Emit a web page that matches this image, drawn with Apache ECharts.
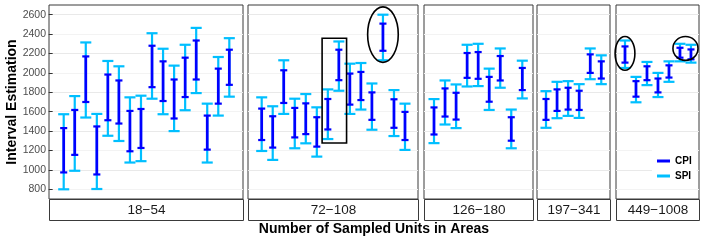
<!DOCTYPE html>
<html><head><meta charset="utf-8">
<script src="https://cdn.jsdelivr.net/npm/echarts@6/dist/echarts.min.js"></script>
<style>html,body{margin:0;padding:0;background:#fff}#c{width:706px;height:241px}</style>
</head><body><div id="c"></div>
<script>
// ---------- data ----------
const panelLabels = ['18\u221254', '72\u2212108', '126\u2212180', '197\u2212341', '449\u22121008'];
const yTicks = [800, 1000, 1200, 1400, 1600, 1800, 2000, 2200, 2400, 2600];

// CPI / SPI intervals as [low, high] for each area, one pair of arrays per panel
const cpi1 = [[974,1431],[1155,1618],[1700,2170],[953,1448],[1512,1983],[1478,1922],[1192,1608],[1226,1628],[1853,2280],[1710,2119],[1530,1932],[1751,2157],[1932,2334],[1209,1560],[1683,2044],[1877,2239]];
const spi1 = [[800,1574],[991,1761],[1540,2314],[803,1577],[1352,2123],[1298,2068],[1076,1748],[1090,1765],[1734,2409],[1574,2249],[1400,2075],[1615,2290],[1792,2464],[1076,1683],[1560,2164],[1755,2358]];
const cpi2 = [[1308,1632],[1230,1553],[1690,2027],[1335,1639],[1369,1686],[1240,1543],[1417,1731],[1925,2239],[1673,1993],[1720,2010],[1516,1799],[2228,2508],[1434,1728],[1308,1598]];
const spi2 = [[1195,1748],[1103,1656],[1577,2130],[1223,1734],[1274,1782],[1137,1645],[1318,1830],[1816,2324],[1577,2095],[1622,2102],[1414,1891],[2130,2600],[1349,1823],[1206,1683]];
const cpi3 = [[1365,1644],[1550,1840],[1519,1795],[1949,2205],[1939,2215],[1703,1959],[1922,2174],[1301,1543],[1823,2051]];
const spi3 = [[1276,1730],[1468,1922],[1431,1881],[1860,2290],[1864,2300],[1618,2044],[1847,2252],[1223,1622],[1737,2126]];
const cpi4 = [[1516,1731],[1608,1830],[1622,1847],[1618,1816],[2000,2191],[1942,2119]];
const spi4 = [[1434,1812],[1533,1908],[1557,1915],[1536,1884],[1935,2252],[1884,2181]];
const cpi5 = [[2106,2273],[1755,1915],[1925,2068],[1799,1942],[1952,2078],[2157,2259],[2140,2242]];
const spi5 = [[2051,2334],[1697,1959],[1874,2113],[1751,2000],[1908,2119],[2119,2300],[2106,2290]];

// highlight annotations (data units): rectangle [panel, x0, x1, y0, y1]; ellipses [panel, cx, rx, cy, ry]
const rectNotes = [[1, 6.48, 8.70, 1277, 2357]];
const ellipseNotes = [[1, 12, 1.39, 2395, 286], [4, 1, 0.9, 2201, 174], [4, 6.5, 1.14, 2252, 123]];

const cpiAll = [cpi1, cpi2, cpi3, cpi4, cpi5];
const spiAll = [spi1, spi2, spi3, spi4, spi5];

// ---------- layout ----------
const FONT = "'Liberation Sans', Arial, Helvetica, sans-serif";
const panelLeft = [49, 248, 424, 537, 616];
const panelWidth = [194, 170, 109, 73, 83];
const xRange = [[-0.332, 17.24], [-0.243, 15.18], [0.094, 9.97], [0.186, 6.79], [0.182, 7.73]];
const TOP = 5, HEIGHT = 194;
const CPI_COLOR = '#0000ff', SPI_COLOR = '#00bfff';

function errRender(capW, lw, capLw, color) {
  return function (params, api) {
    const x = api.value(0), lo = api.value(1), hi = api.value(2);
    const pLo = api.coord([x, lo]), pHi = api.coord([x, hi]);
    const hw = api.size([capW, 0])[0] / 2;
    return {
      type: 'group', children: [
        { type: 'line', shape: { x1: pLo[0], y1: pLo[1], x2: pHi[0], y2: pHi[1] }, style: { stroke: color, lineWidth: lw } },
        { type: 'line', shape: { x1: pLo[0] - hw, y1: pLo[1], x2: pLo[0] + hw, y2: pLo[1] }, style: { stroke: color, lineWidth: capLw } },
        { type: 'line', shape: { x1: pHi[0] - hw, y1: pHi[1], x2: pHi[0] + hw, y2: pHi[1] }, style: { stroke: color, lineWidth: capLw } }
      ]
    };
  };
}

const grids = [], xAxes = [], yAxes = [], series = [], graphics = [];
for (let p = 0; p < 5; p++) {
  grids.push({ left: panelLeft[p], top: TOP, width: panelWidth[p], height: HEIGHT, show: true,
    backgroundColor: '#fff', borderColor: '#3a3a3a', borderWidth: 1 });
  xAxes.push({ type: 'value', gridIndex: p, min: xRange[p][0], max: xRange[p][1],
    axisLine: { show: false }, axisTick: { show: false }, axisLabel: { show: false }, splitLine: { show: false } });
  yAxes.push({ type: 'value', gridIndex: p, min: 700, max: 2700, interval: 100,
    axisLine: { show: false },
    axisTick: { show: p === 0, length: 4, lineStyle: { color: '#333' }, customValues: yTicks },
    axisLabel: { show: p === 0, color: '#4d4d4d', fontSize: 10.5, fontFamily: FONT, margin: 3,
      customValues: yTicks, formatter: v => (v % 200 === 0 ? String(v) : '') },
    splitLine: { show: true, lineStyle: { color: ['#f3f3f3', '#e9e9e9'], width: 1 } } });
  const idx = (arr) => arr.map((d, i) => [i + 1, d[0], d[1]]);
  series.push({ type: 'custom', name: 'SPI', xAxisIndex: p, yAxisIndex: p, z: 2,
    itemStyle: { color: SPI_COLOR }, encode: { x: 0, y: [1, 2] },
    renderItem: errRender(1.0, 2.2, 2.2, SPI_COLOR), data: idx(spiAll[p]) });
  series.push({ type: 'custom', name: 'CPI', xAxisIndex: p, yAxisIndex: p, z: 3,
    itemStyle: { color: CPI_COLOR }, encode: { x: 0, y: [1, 2] },
    renderItem: errRender(0.64, 2.7, 2.2, CPI_COLOR), data: idx(cpiAll[p]) });
  // strip
  graphics.push({ type: 'rect', z: 10, shape: { x: panelLeft[p] + 0.5, y: TOP + HEIGHT + 0.5, width: panelWidth[p], height: 21 },
    style: { fill: '#fff', stroke: '#3a3a3a', lineWidth: 1 } });
  graphics.push({ type: 'text', z: 11, x: panelLeft[p] + panelWidth[p] / 2 + 0.5, y: TOP + HEIGHT + 11,
    style: { text: panelLabels[p], fontSize: 13.5, fontFamily: FONT, fill: '#1a1a1a', align: 'center', verticalAlign: 'middle' } });
}

// annotations
rectNotes.forEach((r) => {
  series.push({ type: 'custom', xAxisIndex: r[0], yAxisIndex: r[0], z: 5, silent: true, clip: false,
    data: [[r[1], r[2], r[3], r[4]]],
    renderItem: function (params, api) {
      const a = api.coord([api.value(0), api.value(3)]), b = api.coord([api.value(1), api.value(2)]);
      return { type: 'rect', shape: { x: a[0], y: a[1], width: b[0] - a[0], height: b[1] - a[1] },
        style: { fill: 'none', stroke: '#000', lineWidth: 1.6 } };
    } });
});
ellipseNotes.forEach((e) => {
  series.push({ type: 'custom', xAxisIndex: e[0], yAxisIndex: e[0], z: 5, silent: true, clip: false,
    data: [[e[1], e[2], e[3], e[4]]],
    renderItem: function (params, api) {
      const c = api.coord([api.value(0), api.value(2)]);
      const s = api.size([api.value(1), api.value(3)]);
      return { type: 'ellipse', shape: { cx: c[0], cy: c[1], rx: s[0], ry: s[1] },
        style: { fill: 'none', stroke: '#000', lineWidth: 1.6 } };
    } });
});

graphics.push({ type: 'text', z: 11, x: 12, y: 102, rotation: Math.PI / 2,
  style: { text: 'Interval Estimation', fontSize: 14, fontWeight: 'bold', fontFamily: FONT, fill: '#000', align: 'center', verticalAlign: 'middle' } });
graphics.push({ type: 'text', z: 11, x: 374, y: 229,
  style: { text: 'Number of Sampled Units in Areas', fontSize: 14, fontWeight: 'bold', fontFamily: FONT, fill: '#000', align: 'center', verticalAlign: 'middle' } });

const chart = echarts.init(document.getElementById('c'), null, { renderer: 'canvas' });
chart.setOption({
  animation: false,
  grid: grids, xAxis: xAxes, yAxis: yAxes, series: series, graphic: graphics,
  legend: { data: ['CPI', 'SPI'], orient: 'vertical', left: 652, top: 150, icon: 'rect',
    itemWidth: 13, itemHeight: 3, itemGap: 5, padding: [6, 5, 6, 5], backgroundColor: '#fff',
    selectedMode: false, z: 20,
    textStyle: { fontSize: 10, fontWeight: 'bold', fontFamily: FONT, color: '#000' } }
});
</script></body></html>
